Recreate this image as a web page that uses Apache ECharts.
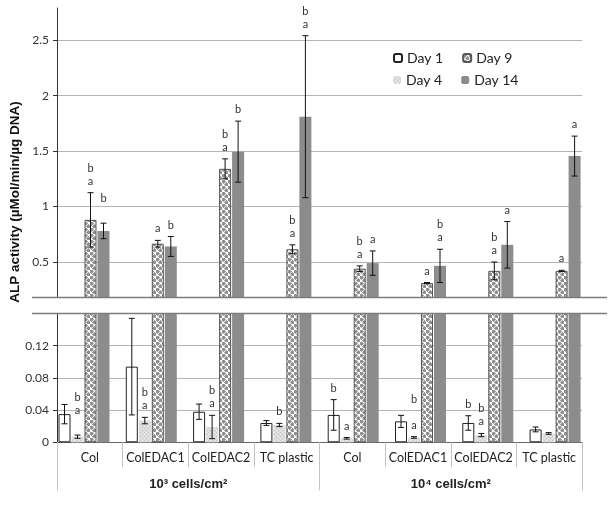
<!DOCTYPE html>
<html>
<head>
<meta charset="utf-8">
<script src="https://cdn.jsdelivr.net/npm/echarts@6/dist/echarts.min.js"></script>
<style>html,body{margin:0;padding:0;background:#fff}#c{width:615px;height:505px}</style>
</head>
<body>
<div id="c"></div>
<script>
// ---- data ----
const categories = ['Col', 'ColEDAC1', 'ColEDAC2', 'TC plastic', 'Col', 'ColEDAC1', 'ColEDAC2', 'TC plastic'];
const groupLabels = ['10³ cells/cm²', '10⁴ cells/cm²'];
const seriesNames = ['Day 1', 'Day 4', 'Day 9', 'Day 14'];

const day1 = [0.035, 0.094, 0.038, 0.024, 0.034, 0.026, 0.024, 0.016];
const day1Err = [0.012, 0.060, 0.0095, 0.003, 0.019, 0.0075, 0.009, 0.003];
const day4 = [0.007, 0.027, 0.019, 0.0215, 0.005, 0.006, 0.009, 0.011];
const day4Err = [0.002, 0.004, 0.0145, 0.002, 0.001, 0.001, 0.002, 0.001];
const day9 = [0.88, 0.665, 1.34, 0.615, 0.44, 0.31, 0.42, 0.42];
const day9Err = [0.245, 0.03, 0.09, 0.04, 0.025, 0.005, 0.08, 0.005];
const day14 = [0.78, 0.64, 1.495, 1.81, 0.49, 0.465, 0.655, 1.455];
const day14Err = [0.07, 0.09, 0.275, 0.73, 0.11, 0.15, 0.21, 0.18];

const day1Letters = ['', '', '', '', 'b', '', 'b', ''];
const day4Letters = ['b\na\n', 'b\na', 'b\na', 'b', 'a', 'b\n\na', 'b\na', ''];
const day9Letters = ['b\na', 'a', 'b\na', 'b\na', 'b\na', 'a', 'b\na', 'a'];
const day14Letters = ['b\n', 'b', 'b', 'b\na', 'a', 'b\na', 'a', 'a'];

const topTicks = [0.5, 1, 1.5, 2, 2.5];

// ---- helpers ----
const vals = [day1, day4, day9, day14];
const errs = [day1Err, day4Err, day9Err, day14Err];
const letters = [day1Letters, day4Letters, day9Letters, day14Letters];

const TOP_MIN = 0.18, TOP_MAX = 2.79, BOT_MIN = 0, BOT_MAX = 0.16;
const FONT = 'Lato';

function pattern9() {
  const c = document.createElement('canvas');
  c.width = 6; c.height = 6;
  const g = c.getContext('2d');
  g.fillStyle = '#ffffff'; g.fillRect(0, 0, 6, 6);
  g.fillStyle = '#8f8f8f';
  [[1.5, 1.5], [4.5, 4.5]].forEach(p => {
    g.beginPath();
    g.moveTo(p[0], p[1] - 2.5); g.lineTo(p[0] + 2.5, p[1]); g.lineTo(p[0], p[1] + 2.5); g.lineTo(p[0] - 2.5, p[1]);
    g.closePath(); g.fill();
  });
  return c;
}
function pattern4() {
  const c = document.createElement('canvas');
  c.width = 4; c.height = 4;
  const g = c.getContext('2d');
  g.fillStyle = '#dcdcdc'; g.fillRect(0, 0, 4, 4);
  g.fillStyle = '#c9c9c9'; g.fillRect(0, 0, 1, 1); g.fillRect(2, 2, 1, 1);
  g.fillStyle = '#ececec'; g.fillRect(2, 0, 1, 1); g.fillRect(0, 2, 1, 1);
  return c;
}

const styles = [
  { color: '#ffffff', borderColor: '#222', borderWidth: 1 },
  { color: { image: pattern4(), repeat: 'repeat' }, borderWidth: 0 },
  { color: { image: pattern9(), repeat: 'repeat' }, borderColor: '#555', borderWidth: 1 },
  { color: '#8c8c8c', borderWidth: 0 }
];

function barSeries(panel) {
  const xi = panel === 'top' ? 1 : 4, yi = panel === 'top' ? 1 : 3;
  return seriesNames.map((n, s) => ({
    type: 'bar', name: n, xAxisIndex: xi, yAxisIndex: yi,
    barWidth: 12, barGap: '8.3%', clip: true,
    itemStyle: styles[s],
    data: vals[s].map(v => panel === 'top' ? (v >= TOP_MIN ? v : null) : v),
    silent: true
  }));
}

function errRender(panel) {
  const lo = panel === 'top' ? TOP_MIN : BOT_MIN, hi = panel === 'top' ? TOP_MAX : BOT_MAX;
  return function (params, api) {
    const c = api.value(0), s = api.value(1);
    const v = vals[s][c], e = errs[s][c];
    if (!(v >= lo && v <= hi)) return null;
    const x = api.coord([c, v])[0] + (s - 1.5) * 13;
    const yT = api.coord([c, v + e])[1];
    const yB = api.coord([c, Math.max(v - e, lo)])[1];
    const st = { stroke: '#111', lineWidth: 1 };
    const ch = [
      { type: 'line', shape: { x1: x, y1: yT, x2: x, y2: yB }, style: st },
      { type: 'line', shape: { x1: x - 3, y1: yT, x2: x + 3, y2: yT }, style: st },
      { type: 'line', shape: { x1: x - 3, y1: yB, x2: x + 3, y2: yB }, style: st }
    ];
    const t = letters[s][c];
    if (t) ch.push({ type: 'text', style: { x: x, y: yT - 5, text: t, fill: '#333', font: '11px ' + FONT, lineHeight: 13, align: 'center', verticalAlign: 'bottom' } });
    return { type: 'group', children: ch };
  };
}

const idx = [];
for (let c = 0; c < categories.length; c++) for (let s = 0; s < 4; s++) idx.push([c, s]);

const labelStyle = { fontFamily: FONT, fontSize: 12, color: '#333' };

const option = {
  animation: false,
  backgroundColor: '#fff',
  grid: [
    { left: 57, top: 8, width: 525, height: 289.5 },
    { left: 50.35, top: 8, width: 538.4, height: 289.5 },
    { left: 57, top: 313.5, width: 525, height: 128.8 },
    { left: 50.35, top: 313.5, width: 538.4, height: 128.8 }
  ],
  xAxis: [
    { type: 'category', gridIndex: 0, data: categories, show: false },
    { type: 'category', gridIndex: 1, data: categories, show: false },
    { type: 'category', gridIndex: 2, data: categories, position: 'bottom', offset: 0,
      axisLine: { lineStyle: { color: '#666', width: 1 } },
      axisTick: { show: true, interval: 0, length: 25, lineStyle: { color: '#c4c4c4' } },
      axisLabel: { interval: 0, margin: 9, fontFamily: FONT, fontSize: 12.5, color: '#222' } },
    { type: 'category', gridIndex: 2, data: groupLabels, position: 'bottom', offset: 0,
      axisLine: { show: false },
      axisTick: { show: true, interval: 0, length: 48, lineStyle: { color: '#c4c4c4' } },
      axisLabel: { interval: 0, margin: 36, fontFamily: 'Liberation Sans', fontWeight: 'bold', fontSize: 13, color: '#222' } },
    { type: 'category', gridIndex: 3, data: categories, show: false }
  ],
  yAxis: [
    { type: 'value', gridIndex: 0, min: TOP_MIN, max: TOP_MAX,
      axisLine: { show: true, lineStyle: { color: '#333' } },
      axisTick: { show: true, length: 4, customValues: topTicks, lineStyle: { color: '#333' } },
      axisLabel: Object.assign({ customValues: topTicks, margin: 8 }, labelStyle),
      splitLine: { show: true, lineStyle: { color: '#b5b5b5' } } },
    { type: 'value', gridIndex: 1, min: TOP_MIN, max: TOP_MAX, show: false, splitLine: { show: false } },
    { type: 'value', gridIndex: 2, min: BOT_MIN, max: BOT_MAX, interval: 0.04,
      axisLine: { show: true, lineStyle: { color: '#333' } },
      axisTick: { show: true, length: 4, lineStyle: { color: '#333' } },
      axisLabel: Object.assign({ margin: 8, formatter: v => (v > 0.13 ? '' : String(+v.toFixed(2))) }, labelStyle),
      splitLine: { show: true, lineStyle: { color: '#b5b5b5' } } },
    { type: 'value', gridIndex: 3, min: BOT_MIN, max: BOT_MAX, show: false, splitLine: { show: false } }
  ],
  legend: [
    { data: ['Day 1', 'Day 9'], left: 388, top: 46, itemWidth: 8, itemHeight: 8, itemGap: 19,
      textStyle: { fontFamily: FONT, fontSize: 14, color: '#222' }, selectedMode: false },
    { data: ['Day 4', 'Day 14'], left: 388, top: 68, itemWidth: 8, itemHeight: 8, itemGap: 19,
      textStyle: { fontFamily: FONT, fontSize: 14, color: '#222' }, selectedMode: false }
  ],
  graphic: [
    { type: 'line', shape: { x1: 32, y1: 297.5, x2: 607, y2: 297.5 }, style: { stroke: '#7d7d7d', lineWidth: 1.5 }, z: 10 },
    { type: 'line', shape: { x1: 32, y1: 313.5, x2: 607, y2: 313.5 }, style: { stroke: '#7d7d7d', lineWidth: 1.5 }, z: 10 },
    { type: 'text', x: 15, y: 202, rotation: Math.PI / 2,
      style: { text: 'ALP activity (µMol/min/µg DNA)', font: 'bold 13.5px "Liberation Sans"', fill: '#111', align: 'center', verticalAlign: 'middle' } }
  ],
  series: [
    ...barSeries('top'),
    ...barSeries('bottom'),
    { type: 'custom', xAxisIndex: 1, yAxisIndex: 1, data: idx, renderItem: errRender('top'), silent: true, z: 5 },
    { type: 'custom', xAxisIndex: 4, yAxisIndex: 3, data: idx, renderItem: errRender('bottom'), silent: true, z: 5 }
  ]
};

const chart = echarts.init(document.getElementById('c'), null, { renderer: 'canvas' });
chart.setOption(option);
</script>
</body>
</html>
